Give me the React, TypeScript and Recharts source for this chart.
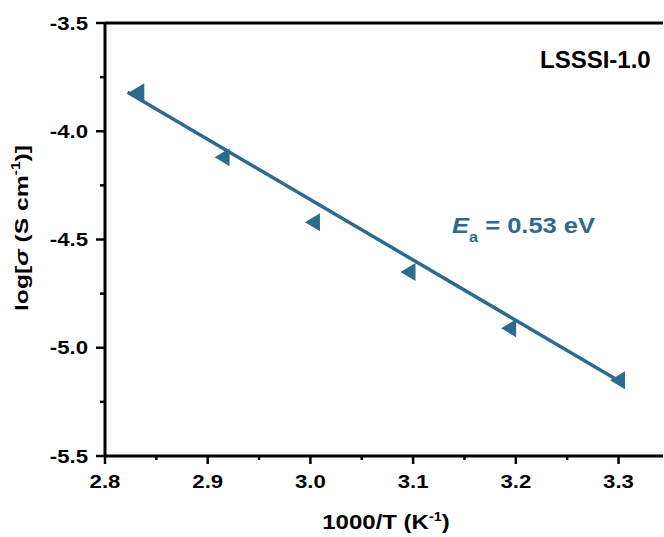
import { ScatterChart, Scatter, XAxis, YAxis, ReferenceLine } from 'recharts';

// 1000/T (K^-1) and log(sigma)
const invT = [2.831, 2.914, 3.002, 3.095, 3.193, 3.299];
const logSigma = [-3.82, -4.12, -4.42, -4.65, -4.91, -5.15];

// linear fit end points
const fitInvT = [2.822, 3.303];
const fitLogSigma = [-3.82, -5.16];

const xMajor = [2.8, 2.9, 3.0, 3.1, 3.2, 3.3];
const xMinor = [2.85, 2.95, 3.05, 3.15, 3.25];
const yMajor = [-5.5, -5.0, -4.5, -4.0, -3.5];
const yMinor = [-5.25, -4.75, -4.25, -3.75];

const BLUE = '#2c6a8e';
const FONT = '"Liberation Sans", Arial, sans-serif';

const points = invT.map((x, i) => ({ x, y: logSigma[i] }));
const fit = fitInvT.map((x, i) => ({ x, y: fitLogSigma[i] }));

const XTick = (props: any) => {
  const { x, y, payload } = props;
  const major = xMajor.includes(payload.value);
  return (
    <g>
      <line x1={x} x2={x} y1={y} y2={y + (major ? 8 : 4)} stroke="#000" strokeWidth={2.5} />
      {major && (
        <text
          transform={`translate(${x},${y + 32}) scale(1.2,1)`}
          textAnchor="middle"
          fontFamily={FONT}
          fontWeight="bold"
          fontSize={18.5}
          fill="#000"
        >
          {payload.value.toFixed(1)}
        </text>
      )}
    </g>
  );
};

const YTick = (props: any) => {
  const { x, y, payload } = props;
  const major = yMajor.includes(payload.value);
  return (
    <g>
      <line x1={x} x2={x - (major ? 9 : 5)} y1={y} y2={y} stroke="#000" strokeWidth={2.5} />
      {major && (
        <text
          transform={`translate(${x - 17},${y + 6.5}) scale(1.2,1)`}
          textAnchor="end"
          fontFamily={FONT}
          fontWeight="bold"
          fontSize={18.5}
          fill="#000"
        >
          {payload.value.toFixed(1)}
        </text>
      )}
    </g>
  );
};

const Triangle = (props: any) => {
  const { cx, cy } = props;
  return <path d={`M${cx - 7.5},${cy} L${cx + 7.5},${cy - 9} L${cx + 7.5},${cy + 9} Z`} fill={BLUE} />;
};

export default function App() {
  return (
    <div style={{ position: 'absolute', left: 0, top: 0, width: 664, height: 537, background: '#fff' }}>
      <ScatterChart width={664} height={537} margin={{ top: 23, right: 1, bottom: 0, left: 0 }}>
        <XAxis
          dataKey="x"
          type="number"
          domain={[2.8, 3.3433]}
          allowDataOverflow
          ticks={[...xMajor, ...xMinor].sort((a, b) => a - b)}
          interval={0}
          tick={XTick}
          tickLine={false}
          tickSize={0}
          tickMargin={0}
          axisLine={{ stroke: '#000', strokeWidth: 3 }}
          height={81}
        />
        <YAxis
          dataKey="y"
          type="number"
          domain={[-5.5, -3.5]}
          allowDataOverflow
          ticks={[...yMajor, ...yMinor].sort((a, b) => a - b)}
          interval={0}
          tick={YTick}
          tickLine={false}
          tickSize={0}
          tickMargin={0}
          axisLine={{ stroke: '#000', strokeWidth: 3 }}
          width={105}
        />
        <ReferenceLine y={-3.5} stroke="#000" strokeWidth={3} />
        <Scatter
          data={fit}
          line={{ stroke: BLUE, strokeWidth: 3.5 }}
          lineType="joint"
          shape={() => <g />}
          isAnimationActive={false}
          legendType="none"
        />
        <Scatter data={points} shape={Triangle} isAnimationActive={false} legendType="none" />
      </ScatterChart>
      <svg
        width={664}
        height={537}
        style={{ position: 'absolute', left: 0, top: 0, pointerEvents: 'none' }}
      >
        <text
          transform="translate(28,228) rotate(-90) scale(1.3,1)"
          textAnchor="middle"
          fontFamily={FONT}
          fontWeight="bold"
          fontSize={19}
          fill="#000"
        >
          log[<tspan fontStyle="italic">σ</tspan> (S cm
          <tspan fontSize={12} dy={-8}>-1</tspan>
          <tspan dy={8}>)]</tspan>
        </text>
        <text
          transform="translate(386,529) scale(1.2,1)"
          textAnchor="middle"
          fontFamily={FONT}
          fontWeight="bold"
          fontSize={20}
          fill="#000"
        >
          1000/T (K<tspan fontSize={12} dy={-8}>-1</tspan>
          <tspan dy={8}>)</tspan>
        </text>
        <text x={540} y={68} fontFamily={FONT} fontWeight="bold" fontSize={24} fill="#000">
          LSSSI-1.0
        </text>
        <text
          transform="translate(452,233) scale(1.16,1)"
          fontFamily={FONT}
          fontWeight="bold"
          fontSize={22}
          fill={BLUE}
        >
          <tspan fontStyle="italic">E</tspan>
          <tspan fontSize={14} dy={9}>a</tspan>
          <tspan dy={-9}> = 0.53 eV</tspan>
        </text>
      </svg>
    </div>
  );
}
